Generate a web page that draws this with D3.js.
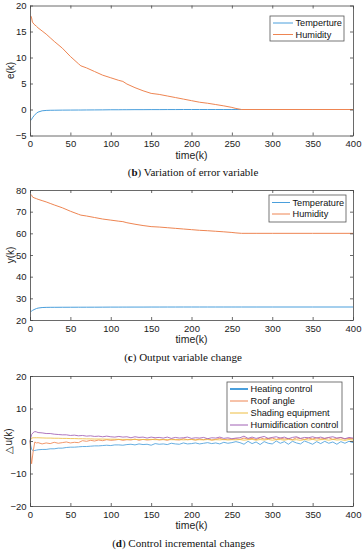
<!DOCTYPE html>
<html><head><meta charset="utf-8">
<script src="https://cdn.jsdelivr.net/npm/d3@7"></script>
<style>html,body{margin:0;padding:0;background:#fff;}svg{display:block;}</style>
</head><body>
<script>
// ---------- DATA ----------
const xTicks = [0, 50, 100, 150, 200, 250, 300, 350, 400];
const yTicksB = [-5, 0, 5, 10, 15, 20];
const yTicksC = [20, 30, 40, 50, 60, 70, 80];
const yTicksD = [-20, -10, 0, 10, 20];

const time1 = [1,2,3,5,8,10,15,20,25,30,40,50,60,63,70,80,90,100,110,115,120,130,140,150,160,170,180,190,200,210,220,230,240,250,255,262,270,280,300,350,400];
const tempErr = [-2.1,-1.9,-1.6,-1.2,-0.7,-0.5,-0.25,-0.18,-0.15,-0.14,-0.12,-0.11,-0.1,-0.1,-0.09,-0.08,-0.07,-0.05,-0.05,-0.04,-0.04,-0.03,-0.03,-0.02,-0.02,-0.01,-0.01,0,0,0,0,0,0,0,0,0,0,0,0,0,0];
const humErr = [18.0,17.6,16.8,16.4,16.0,15.7,15.1,14.5,13.8,13.1,11.8,10.2,8.8,8.4,8.0,7.3,6.6,6.1,5.6,5.4,4.9,4.2,3.6,3.1,2.9,2.6,2.3,2.0,1.7,1.4,1.2,0.95,0.7,0.4,0.2,0,0,0,0,0,0];
const tempOut = [23.9,24.1,24.4,24.8,25.3,25.5,25.75,25.82,25.85,25.86,25.88,25.89,25.9,25.9,25.91,25.92,25.93,25.95,25.95,25.96,25.96,25.97,25.97,25.98,25.98,25.99,25.99,26,26,26,26,26,26,26,26,26,26,26,26,26,26];
const humOut = [78.0,77.6,76.8,76.4,76.0,75.7,75.1,74.5,73.8,73.1,71.8,70.2,68.8,68.4,68.0,67.3,66.6,66.1,65.6,65.4,64.9,64.2,63.6,63.1,62.9,62.6,62.3,62.0,61.7,61.4,61.2,60.95,60.7,60.4,60.2,60,60,60,60,60,60];

const time3 = [0,1,2,4,6,8].concat(d3.range(10, 401, 5));
const heating = [0,-1.5,-2.6,-3.0,-2.9,-2.8,
 -2.7,-2.6,-2.6,-2.4,-2.4,-2.2,-2.2,-2.0,-1.9,-1.9,
 -1.8,-1.7,-1.7,-1.6,-1.5,-1.5,-1.4,-1.3,-1.4,-1.2,
 -1.2,-1.3,-1.1,-1.0,-1.2,-0.9,-1.1,-1.0,-1.3,-0.8,
 -1.0,-0.9,-1.1,-0.7,-0.9,-1.0,-0.6,-0.9,-0.8,-0.6,
 -0.9,-0.7,-0.5,-0.8,-0.6,-0.9,-0.4,-0.7,-0.5,-0.2,
 -0.5,-1.0,-0.1,-0.8,-0.3,-1.1,-0.2,-0.7,-0.9,0.0,
 -0.7,-0.2,-1.0,-0.1,-0.6,-0.9,0.0,-0.5,-1.0,-0.2,
 -0.8,-0.1,-0.7,-0.3,-1.0,-0.2,-0.7,-0.1,-0.5];
const roof = [0,-4.5,-7.0,-3.0,-0.3,-0.6,
 -0.5,-0.9,-0.6,-0.8,-0.4,-0.7,-0.5,-0.3,-0.6,-0.4,
 -0.5,0.1,-0.1,0.2,0.0,0.3,0.1,0.4,0.2,0.3,
 0.5,0.2,0.4,0.3,0.6,0.2,0.5,0.3,0.4,0.6,
 0.3,0.5,0.2,0.6,0.4,0.3,0.7,0.4,0.5,0.3,
 0.6,0.4,0.7,0.3,0.5,0.8,0.4,0.6,0.5,0.7,
 0.5,0.9,0.6,0.8,0.4,1.0,0.6,0.8,0.9,0.5,
 0.9,0.6,0.8,0.4,1.0,0.7,0.5,0.9,0.6,1.0,
 0.6,0.8,1.0,0.5,0.8,1.0,0.6,0.8,0.7];
const shading = [0,0.5,0.9,1.0,1.0,1.0,
 1.0,0.95,0.9,0.9,0.85,0.85,0.8,0.8,0.75,0.75,
 0.7,0.7,0.65,0.65,0.6,0.6,0.6,0.55,0.55,0.55,
 0.5,0.5,0.5,0.5,0.45,0.5,0.45,0.45,0.5,0.4,
 0.45,0.4,0.45,0.4,0.4,0.45,0.35,0.4,0.45,0.35,
 0.4,0.35,0.45,0.3,0.4,0.35,0.45,0.3,0.4,0.35,
 0.45,0.25,0.4,0.5,0.25,0.45,0.3,0.5,0.25,0.4,
 0.45,0.25,0.5,0.3,0.4,0.2,0.45,0.3,0.5,0.25,
 0.4,0.45,0.25,0.5,0.3,0.4,0.2,0.45,0.3];
const humidif = [0,1.0,2.0,2.6,2.9,2.8,
 2.6,2.5,2.3,2.3,2.1,2.0,1.9,1.9,1.7,1.8,
 1.6,1.7,1.5,1.6,1.4,1.5,1.3,1.5,1.3,1.2,
 1.4,1.2,1.3,1.0,1.3,1.1,1.2,0.9,1.2,1.0,
 1.1,0.9,1.2,0.8,1.1,0.9,1.0,1.2,0.8,1.0,
 0.9,1.1,0.7,1.0,0.9,1.2,0.8,1.0,0.7,0.9,
 1.0,1.5,0.8,1.2,0.8,1.1,1.4,0.8,1.1,1.3,
 0.9,1.2,0.7,1.1,1.3,0.8,1.1,1.0,1.3,0.9,
 1.2,0.8,1.1,1.3,0.9,1.1,0.7,1.1,0.9];

// ---------- DRAW ----------
const W = 363, H = 550;
const C = {blue:"#4A9FDC", orange:"#EE8552", yellow:"#EDBD40", purple:"#A060B4"};
const svg = d3.select("body").append("svg").attr("width", W).attr("height", H)
  .style("background", "#fff");
const SANS = "'Liberation Sans', Arial, Helvetica, sans-serif";
const SERIF = "'Liberation Serif', 'Times New Roman', serif";
const left = 30, right = 353;
const x = d3.scaleLinear().domain([0, 400]).range([left, right]);

function panel(o) {
  const y = d3.scaleLinear().domain(o.yDomain).range([o.bottom, o.top]);
  const g = svg.append("g");
  o.series.forEach(s => {
    const line = d3.line().x((d, i) => x(s.t[i])).y(d => y(d));
    g.append("path").datum(s.v).attr("d", line).attr("fill", "none")
      .attr("stroke", s.color).attr("stroke-width", o.lw).attr("stroke-linejoin", "round");
  });
  const axStyle = sel => {
    sel.attr("font-family", SANS).attr("font-size", 9.5);
    sel.selectAll(".domain").attr("stroke", "#444").attr("stroke-width", 0.8);
    sel.selectAll(".tick line").attr("stroke", "#444").attr("stroke-width", 0.8);
    sel.selectAll("text").attr("fill", "#222");
  };
  g.append("g").attr("transform", `translate(0,${o.bottom})`)
    .call(d3.axisBottom(x).tickValues(xTicks).tickSizeInner(-3).tickSizeOuter(0).tickPadding(5)).call(axStyle);
  g.append("g").attr("transform", `translate(0,${o.top})`)
    .call(d3.axisTop(x).tickValues(xTicks).tickSizeInner(-3).tickSizeOuter(0).tickFormat("")).call(axStyle);
  g.append("g").attr("transform", `translate(${left},0)`)
    .call(d3.axisLeft(y).tickValues(o.yTicks).tickSizeInner(-3).tickSizeOuter(0).tickPadding(3.5)).call(axStyle);
  g.append("g").attr("transform", `translate(${right},0)`)
    .call(d3.axisRight(y).tickValues(o.yTicks).tickSizeInner(-3).tickSizeOuter(0).tickFormat("")).call(axStyle);
  g.append("text").attr("x", (left + right) / 2).attr("y", o.bottom + 23)
    .attr("text-anchor", "middle").attr("font-family", SANS).attr("font-size", 10.5).attr("fill", "#222").text("time(k)");
  g.append("text").attr("transform", `translate(${o.ylx},${(o.top + o.bottom) / 2}) rotate(-90)`)
    .attr("dy", "0.35em")
    .attr("text-anchor", "middle").attr("font-family", SANS).attr("font-size", 10).attr("fill", "#222").text(o.ylabel);
  const cap = g.append("text").attr("x", o.capX).attr("y", o.bottom + 40.5)
    .attr("text-anchor", "middle").attr("font-family", SERIF).attr("font-size", 11).attr("fill", "#111");
  cap.append("tspan").text("(");
  cap.append("tspan").attr("font-weight", "bold").text(o.capTag);
  cap.append("tspan").text(") " + o.capText);
  const L = o.legend;
  g.append("rect").attr("x", L.x).attr("y", L.y).attr("width", L.w).attr("height", L.h)
    .attr("fill", "#fff").attr("stroke", "#555").attr("stroke-width", 0.8);
  o.series.forEach((s, i) => {
    const yy = L.y + L.first + i * L.step;
    g.append("line").attr("x1", L.x + 3).attr("x2", L.x + L.lineLen).attr("y1", yy).attr("y2", yy)
      .attr("stroke", s.color).attr("stroke-width", s.legendWidth || 1);
    g.append("text").attr("x", L.x + L.lineLen + 2.5).attr("y", yy).attr("dy", "0.35em")
      .attr("font-family", SANS).attr("font-size", 9.2).attr("fill", "#111").text(s.name);
  });
}

panel({
  top: 5.5, bottom: 135.5, yDomain: [-5, 20], yTicks: yTicksB, ylabel: "e(k)", ylx: 10, lw: 1,
  capTag: "b", capText: "Variation of error variable", capX: 193,
  series: [
    {name: "Temperture", t: time1, v: tempErr, color: C.blue},
    {name: "Humidity", t: time1, v: humErr, color: C.orange}
  ],
  legend: {x: 270, y: 16, w: 74, h: 25, first: 7, step: 11.5, lineLen: 23}
});
panel({
  top: 190, bottom: 320, yDomain: [20, 80], yTicks: yTicksC, ylabel: "y(k)", ylx: 10, lw: 1,
  capTag: "c", capText: "Output variable change", capX: 183,
  series: [
    {name: "Temperature", t: time1, v: tempOut, color: C.blue},
    {name: "Humidity", t: time1, v: humOut, color: C.orange}
  ],
  legend: {x: 269, y: 195, w: 77, h: 27, first: 7.5, step: 11.5, lineLen: 21}
});
panel({
  top: 376, bottom: 506, yDomain: [-20, 20], yTicks: yTicksD, ylabel: "△u(k)", ylx: 8.5, lw: 0.85,
  capTag: "d", capText: "Control incremental changes", capX: 183.5,
  series: [
    {name: "Heating control", t: time3, v: heating, color: C.blue, legendWidth: 2},
    {name: "Roof angle", t: time3, v: roof, color: C.orange},
    {name: "Shading equipment", t: time3, v: shading, color: C.yellow},
    {name: "Humidification control", t: time3, v: humidif, color: C.purple}
  ],
  legend: {x: 227, y: 382, w: 115, h: 50, first: 7, step: 12, lineLen: 21}
});
</script>
</body></html>
